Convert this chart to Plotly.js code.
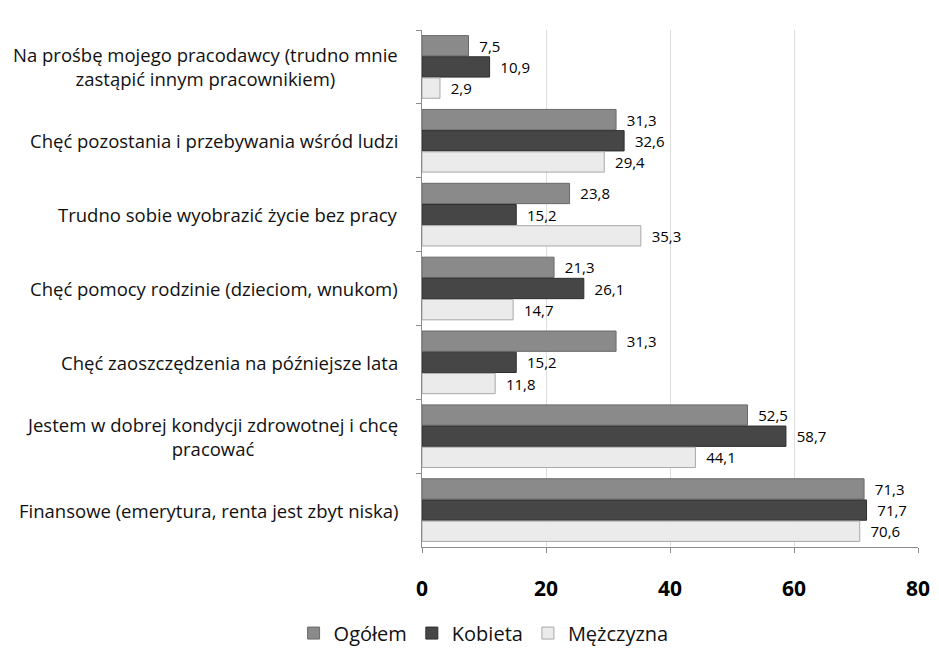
<!DOCTYPE html>
<html>
<head>
<meta charset="utf-8">
<script src="https://cdn.plot.ly/plotly-3.0.1.min.js"></script>
<style>html,body{margin:0;padding:0;background:#fff;}#chart{width:939px;height:654px;}</style>
</head>
<body>
<div id="chart"></div>
<script>
const categories = [
  "Na prośbę mojego pracodawcy (trudno mnie<br>zastąpić innym pracownikiem)",
  "Chęć pozostania i przebywania wśród ludzi",
  "Trudno sobie wyobrazić życie bez pracy",
  "Chęć pomocy rodzinie (dzieciom, wnukom)",
  "Chęć zaoszczędzenia na późniejsze lata",
  "Jestem w dobrej kondycji zdrowotnej i chcę<br>pracować",
  "Finansowe (emerytura, renta jest zbyt niska)"
];
const seriesNames = ["Ogółem", "Kobieta", "Mężczyzna"];
const ogolem    = [7.5, 31.3, 23.8, 21.3, 31.3, 52.5, 71.3];
const kobieta   = [10.9, 32.6, 15.2, 26.1, 15.2, 58.7, 71.7];
const mezczyzna = [2.9, 29.4, 35.3, 14.7, 11.8, 44.1, 70.6];
const xTicks = [0, 20, 40, 60, 80];

const FONT = "'Open Sans', Lato, 'Liberation Sans', sans-serif";
const fills = ["#8a8a8a", "#464646", "#ebebeb"];
const lines = ["#6a6a6a", "#2e2e2e", "#a8a8a8"];
const values = [ogolem, kobieta, mezczyzna];

const traces = values.map((v, i) => ({
  type: "bar",
  orientation: "h",
  name: seriesNames[i],
  y: categories,
  x: v,
  marker: {color: fills[i], line: {color: lines[i], width: 1}},
  texttemplate: "\u00a0\u00a0%{x:.1f}",
  textposition: "outside",
  constraintext: "none",
  textfont: {family: FONT, size: 15, color: "#000"},
  cliponaxis: false,
  hoverinfo: "skip"
}));

const annotations = categories.map(c => ({
  xref: "paper", yref: "y",
  x: 0, y: c,
  xshift: -22,
  xanchor: "right", yanchor: "middle",
  align: "center",
  text: c,
  showarrow: false,
  font: {family: FONT, size: 18.5, color: "#111"}
}));

const layout = {
  width: 939, height: 654,
  margin: {l: 422, r: 21, t: 30, b: 107},
  paper_bgcolor: "#fff", plot_bgcolor: "#fff",
  separators: ", ",
  barmode: "group",
  bargap: 0.14,
  bargroupgap: 0.04,
  showlegend: true,
  legend: {
    orientation: "h",
    xref: "container", yref: "container",
    x: 0.515, xanchor: "center",
    y: 0.032, yanchor: "middle",
    font: {family: FONT, size: 20, color: "#111"},
    itemwidth: 30
  },
  xaxis: {
    range: [0, 80],
    tickvals: xTicks,
    ticktext: xTicks.map(String),
    tickfont: {family: FONT, size: 21, color: "#000", weight: "bold"},
    showgrid: true, gridcolor: "#dedede", gridwidth: 1,
    zeroline: false,
    showline: true, linecolor: "#8c8c8c", linewidth: 1,
    ticks: "outside", ticklen: 5, tickcolor: "#8c8c8c",
    ticklabelstandoff: 18,
    fixedrange: true
  },
  yaxis: {
    type: "category",
    autorange: "reversed",
    showticklabels: false,
    showline: true, linecolor: "#8c8c8c", linewidth: 1,
    ticks: "outside", tickson: "boundaries", ticklen: 5, tickcolor: "#8c8c8c",
    showgrid: false,
    fixedrange: true
  },
  annotations: annotations
};

Plotly.newPlot("chart", traces, layout, {displayModeBar: false, staticPlot: true});
</script>
</body>
</html>
